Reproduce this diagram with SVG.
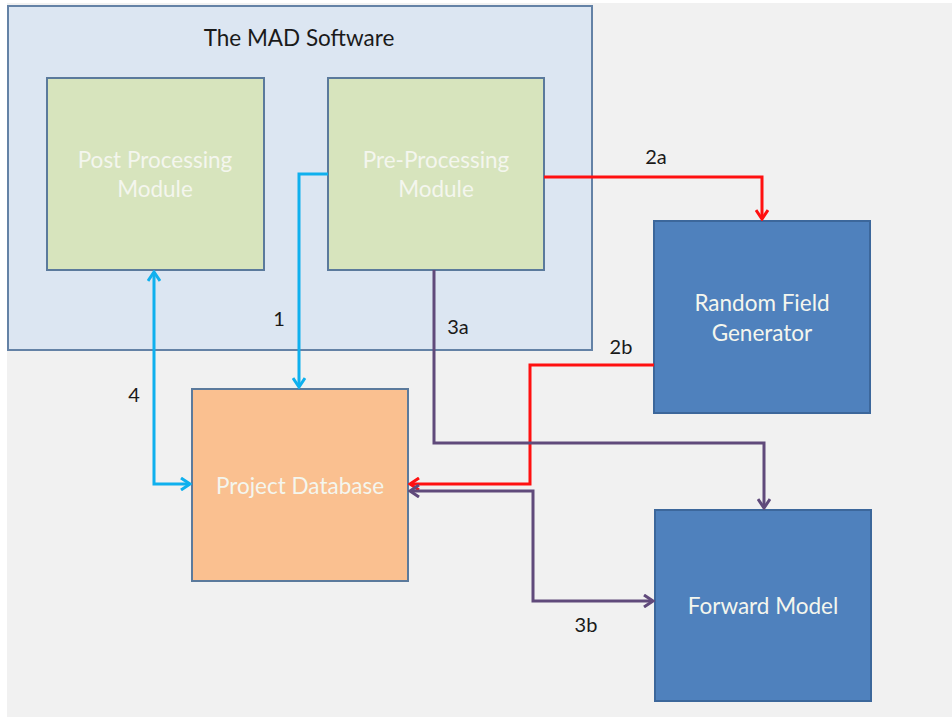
<svg xmlns="http://www.w3.org/2000/svg" width="952" height="719" viewBox="0 0 952 719">
  <style>
    .box { stroke-width: 2; }
    .lbl { font-family: Lato, "Liberation Sans", sans-serif; font-size: 22.5px; text-anchor: middle; }
    .ntext { fill: #f4f6ee; }
    .edge-label { font-family: Lato, "Liberation Sans", sans-serif; font-size: 20px; fill: #1a1a1a; text-anchor: middle; }
    .conn { fill: none; stroke-width: 3; stroke-linejoin: miter; }
    .blue { stroke: #0fb0ee; }
    .red { stroke: #ff1010; }
    .purple { stroke: #604a7b; }
  </style>
  <defs>
    <marker id="arBlue" viewBox="0 0 14 14" refX="12" refY="7" markerWidth="14" markerHeight="14" markerUnits="userSpaceOnUse" orient="auto-start-reverse">
      <path d="M3,1 L12,7 L3,13" fill="none" stroke="#0fb0ee" stroke-width="3"/>
    </marker>
    <marker id="arRed" viewBox="0 0 14 14" refX="12" refY="7" markerWidth="14" markerHeight="14" markerUnits="userSpaceOnUse" orient="auto-start-reverse">
      <path d="M3,1 L12,7 L3,13" fill="none" stroke="#ff1010" stroke-width="3"/>
    </marker>
    <marker id="arPurple" viewBox="0 0 14 14" refX="12" refY="7" markerWidth="14" markerHeight="14" markerUnits="userSpaceOnUse" orient="auto-start-reverse">
      <path d="M3,1 L12,7 L3,13" fill="none" stroke="#604a7b" stroke-width="3"/>
    </marker>
  </defs>

  <!-- canvas -->
  <rect x="0" y="0" width="952" height="719" fill="#ffffff"/>
  <rect x="7" y="3" width="945" height="714" fill="#f1f1f1"/>

  <!-- container -->
  <g id="mad-software">
    <rect x="8" y="6" width="584" height="344" fill="#dce6f2" stroke="#6482a6" class="box"/>
    <text x="299" y="46" class="lbl" fill="#1a1a1a">The MAD Software</text>
  </g>

  <g id="post-processing">
    <rect x="47" y="78" width="217" height="192" fill="#d7e4bd" stroke="#5b7a9c" class="box"/>
    <text x="155" y="168" class="lbl ntext">Post Processing</text>
    <text x="155" y="197" class="lbl ntext">Module</text>
  </g>

  <g id="pre-processing">
    <rect x="328" y="78" width="216" height="192" fill="#d7e4bd" stroke="#5b7a9c" class="box"/>
    <text x="436" y="168" class="lbl ntext">Pre-Processing</text>
    <text x="436" y="197" class="lbl ntext">Module</text>
  </g>

  <g id="random-field">
    <rect x="654" y="221" width="216" height="192" fill="#4f81bd" stroke="#3c679b" class="box"/>
    <text x="762" y="311" class="lbl ntext">Random Field</text>
    <text x="762" y="341" class="lbl ntext">Generator</text>
  </g>

  <g id="project-database">
    <rect x="192" y="389" width="216" height="192" fill="#fac090" stroke="#5b7a9c" class="box"/>
    <text x="300" y="494" class="lbl ntext">Project Database</text>
  </g>

  <g id="forward-model">
    <rect x="655" y="510" width="216" height="191" fill="#4f81bd" stroke="#3c679b" class="box"/>
    <text x="763" y="614" class="lbl ntext">Forward Model</text>
  </g>

  <g id="connectors">
    <!-- 1 -->
    <path class="conn blue" d="M328,174 H299 V387" marker-end="url(#arBlue)"/>
    <!-- 4 -->
    <path class="conn blue" d="M154,272 V484 H190" marker-start="url(#arBlue)" marker-end="url(#arBlue)"/>
    <!-- 2a -->
    <path class="conn red" d="M544,177 H762 V219" marker-end="url(#arRed)"/>
    <!-- 2b -->
    <path class="conn red" d="M654,365 H530 V484 H410" marker-end="url(#arRed)"/>
    <!-- 3a -->
    <path class="conn purple" d="M434,270 V443 H764 V508" marker-end="url(#arPurple)"/>
    <!-- 3b -->
    <path class="conn purple" d="M410,491 H533 V601 H653" marker-start="url(#arPurple)" marker-end="url(#arPurple)"/>

    <text x="656" y="164" class="edge-label">2a</text>
    <text x="279" y="326" class="edge-label">1</text>
    <text x="458" y="334" class="edge-label">3a</text>
    <text x="621" y="354" class="edge-label">2b</text>
    <text x="134" y="402" class="edge-label">4</text>
    <text x="586" y="632" class="edge-label">3b</text>
  </g>
</svg>
